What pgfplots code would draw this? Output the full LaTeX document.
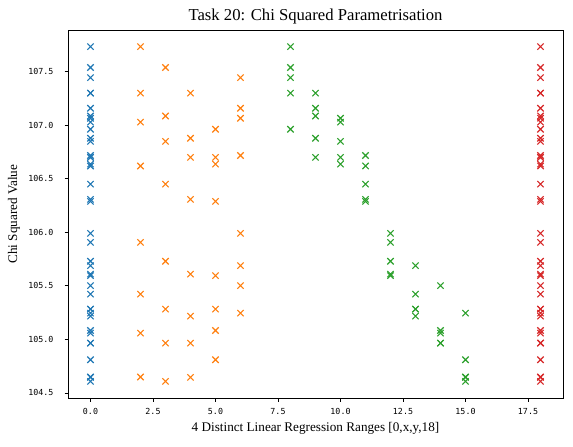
\documentclass[border=0pt]{standalone}
\usepackage{fontspec}
\setmainfont{Liberation Serif}
\setmonofont{DejaVu Sans Mono}
\usepackage{pgfplots}
\usepackage{pgfplotstable}
\pgfplotsset{compat=1.18}
\definecolor{tabblue}{HTML}{1F77B4}
\definecolor{taborange}{HTML}{FF7F0E}
\definecolor{tabgreen}{HTML}{2CA02C}
\definecolor{tabred}{HTML}{D62728}
\pgfplotstableread{
a b v
2 8 107.734
2 9 107.300
2 10 107.030
2 11 106.620
2 12 105.907
2 13 105.423
2 14 105.059
2 15 104.649
3 8 107.540
3 9 107.087
3 10 106.849
3 11 106.450
3 12 105.730
3 13 105.283
3 14 104.966
3 15 104.608
4 8 107.300
4 9 106.879
4 10 106.700
4 11 106.308
4 12 105.609
4 13 105.218
4 14 104.966
4 15 104.645
5 8 106.963
5 9 106.700
5 10 106.637
5 11 106.289
5 12 105.596
5 13 105.283
5 14 105.083
5 15 104.810
6 8 107.445
6 9 107.159
6 10 107.066
6 11 106.718
6 12 105.991
6 13 105.689
6 14 105.503
6 15 105.246
}\chisq
\begin{document}
\begin{tikzpicture}
\begin{axis}[
  scale only axis,
  width=356.4pt, height=265pt,
  xmin=-0.9, xmax=18.9,
  ymin=104.452, ymax=107.89,
  xtick={0,2.5,5,7.5,10,12.5,15,17.5},
  ytick={104.5,105,105.5,106,106.5,107,107.5},
  tick pos=left,
  tick align=outside,
  major tick length=2.5pt,
  every tick/.style={black, line width=0.6pt},
  axis line style={line width=0.6pt},
  /pgf/number format/.cd, fixed, fixed zerofill, precision=1, assume math mode=true, 1000 sep={},
  /pgfplots/.cd,
  ticklabel style={font=\fontsize{6}{7}\selectfont\ttfamily},
  yticklabel style={xshift=-4.5pt},
  xticklabel style={yshift=-1.5pt},
  every axis title shift=0pt,
  title={Task 20: Chi Squared Parametrisation},
  title style={font=\fontsize{12}{14}\selectfont, at={(axis description cs:0.5,1.038)}, anchor=center},
  xlabel={4 Distinct Linear Regression Ranges [0,x,y,18]},
  xlabel style={font=\fontsize{9.5}{11}\selectfont, at={(axis description cs:0.5,-0.0815)}, anchor=center},
  ylabel={Chi Squared Value},
  ylabel style={font=\fontsize{9.5}{11}\selectfont, at={(axis description cs:-0.109,0.5)}, anchor=center, rotate=0},
  every axis plot/.append style={only marks, mark=x, mark size=3.2pt, mark options={line width=0.8pt}},
]
\addplot[tabblue] table[x expr=0, y=v] {\chisq};
\addplot[taborange] table[x=a, y=v] {\chisq};
\addplot[tabgreen] table[x=b, y=v] {\chisq};
\addplot[tabred] table[x expr=18, y=v] {\chisq};
\end{axis}
\pgfresetboundingbox
\path[use as bounding box] ([xshift=-48.96pt,yshift=-34.56pt]current axis.south west) rectangle ([xshift=7.2pt,yshift=21.6pt]current axis.north east);
\end{tikzpicture}
\end{document}
